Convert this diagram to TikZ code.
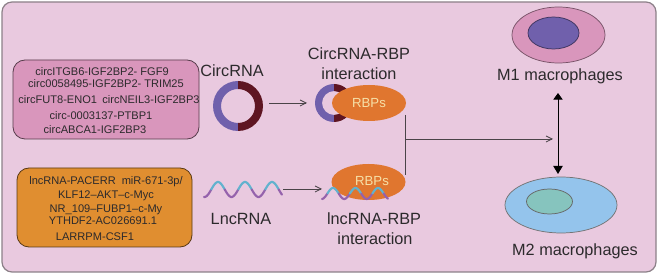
\documentclass[tikz,border=0pt]{standalone}
\usepackage{fontspec}
\setmainfont{Liberation Sans}
\usetikzlibrary{arrows.meta,shapes.geometric}
\definecolor{panelfill}{HTML}{E9C9DF}
\definecolor{panelline}{HTML}{8C8088}
\definecolor{circfill}{HTML}{D996BC}
\definecolor{lncfill}{HTML}{E08E30}
\definecolor{ringpurple}{HTML}{7060AC}
\definecolor{ringdark}{HTML}{5E1522}
\definecolor{rbporange}{HTML}{E0762F}
\definecolor{rbptext}{HTML}{F6E0A8}
\definecolor{waveblue}{HTML}{62B2CE}
\definecolor{wavepurple}{HTML}{9562AC}
\definecolor{inktext}{HTML}{2C2A2C}
\definecolor{linkgray}{HTML}{4A4448}
\tikzset{
  x=0.75pt, y=-0.75pt,
  panel/.style={draw=panelline, line width=0.9pt, fill=panelfill, rounded corners=7.5pt},
  listbox/.style={draw=#1!40!black, line width=0.6pt, rounded corners=9pt},
  small/.style={font=\fontsize{8.3}{9}\selectfont, text=inktext, inner sep=0pt},
  big/.style={font=\fontsize{12.2}{14}\selectfont, text=inktext, inner sep=0pt},
  rbp/.style={ellipse, fill=rbporange, minimum width=55.5pt, minimum height=27pt, inner sep=0pt,
    font=\fontsize{9.9}{11}\selectfont, text=rbptext},
  link/.style={draw=linkgray, line width=0.65pt},
  linkarrow/.style={link, -{Straight Barb[length=4.5pt,width=4.5pt]}},
  cell/.style={ellipse, draw=#1!55!black, line width=0.55pt, inner sep=0pt},
  wave/.style={line width=1.6pt, line cap=round},
}
% sine strand: troughs purple, crests blue, trimmed to the range lo..hi
\newcommand{\waveline}[7]{% phase start x, mean y, amplitude, period, half-period count, lo, hi
  \pgfmathtruncatemacro{\nlast}{#5-1}
  \foreach \k in {0,...,\nlast}{
    \pgfmathsetmacro{\xa}{#1+\k*#4/2}
    \pgfmathsetmacro{\xb}{\xa+#4/2}
    \pgfmathsetmacro{\xlo}{max(\xa,#6)}
    \pgfmathsetmacro{\xhi}{min(\xb,#7)}
    \pgfmathtruncatemacro{\odd}{mod(\k,2)}
    \ifnum\odd=0\def\wcol{wavepurple}\def\wsign{1}\else\def\wcol{waveblue}\def\wsign{-1}\fi
    \draw[wave, draw=\wcol] plot[domain=\xlo:\xhi, samples=14, smooth]
      (\x, {#2+\wsign*(#3)*sin(180*(\x-\xa)/(#4/2))});
  }
}
% ring with a purple left half and a dark right half
\newcommand{\halfring}[4]{% x, y, outer radius, inner radius
  \fill[ringpurple] (#1,#2-#3) arc[start angle=90,end angle=270,radius=#3*0.75pt]
    -- (#1,#2+#4) arc[start angle=270,end angle=90,radius=#4*0.75pt] -- cycle;
  \fill[ringdark] (#1,#2-#3) arc[start angle=90,end angle=-90,radius=#3*0.75pt]
    -- (#1,#2+#4) arc[start angle=-90,end angle=90,radius=#4*0.75pt] -- cycle;
}
\begin{document}
\begin{tikzpicture}
\useasboundingbox (0,0) rectangle (658,274);
\draw[panel] (2,2) rectangle (656,272);

% circRNA list
\draw[listbox=circfill, fill=circfill] (13,60) rectangle (199,139);
\node[small] (c1) at (102,72) {circITGB6-IGF2BP2- FGF9};
\node[small] (c2) at (106,84) {circ0058495-IGF2BP2- TRIM25};
\node[small] (c3) at (109,100) {circFUT8-ENO1\hspace{4pt}circNEIL3-IGF2BP3};
\node[small] (c4) at (101,116) {circ-0003137-PTBP1};
\node[small] (c5) at (95,130) {circABCA1-IGF2BP3};

% lncRNA list
\draw[listbox=lncfill, fill=lncfill] (17,168) rectangle (192,247);
\node[small] (l1) at (106,182) {lncRNA-PACERR\hspace{4.5pt}miR-671-3p/};
\node[small] (l2) at (106,196) {KLF12–AKT–c-Myc};
\node[small] (l3) at (106,210) {NR\_109–FUBP1–c-My};
\node[small] (l4) at (103,221) {YTHDF2-AC026691.1};
\node[small] (l5) at (95,237) {LARRPM-CSF1};

% circRNA and its RBP complex
\node[big] (circlabel) at (232,71) {CircRNA};
\halfring{238}{106}{25}{17}
\coordinate (circout) at (269,103);
\coordinate (circin) at (307,103);
\draw[linkarrow] (circout) -- (circin);
\node[big] (circrbp1) at (359,54) {CircRNA-RBP};
\node[big] (circrbp2) at (359,74) {interaction};
\halfring{334}{103}{19}{12}
\node[rbp] (rbpa) at (369,103) {RBPs};

% lncRNA and its RBP complex
\waveline{197.75}{189.5}{7.5}{27}{7}{204}{282}
\node[big] (lnclabel) at (241,219) {LncRNA};
\coordinate (lncout) at (283,189);
\coordinate (lncin) at (322,189);
\draw[linkarrow] (lncout) -- (lncin);
\node[rbp] (rbpb) at (368.5,182) {};
\node[font=\fontsize{9.9}{11}\selectfont, text=rbptext, inner sep=0pt] (rbpbtext) at (372,181) {RBPs};
\waveline{316.15}{193.5}{5.5}{22.5}{7}{322}{388}
\node[big] (lncrbp1) at (374,219) {lncRNA-RBP};
\node[big] (lncrbp2) at (375,239) {interaction};

% merging connector towards the macrophage switch
\coordinate (jointop) at (405,115);
\coordinate (joinbottom) at (405,175);
\coordinate (joinmid) at (405,139);
\coordinate (joinend) at (553,139);
\draw[link] (jointop) -- (joinbottom);
\draw[linkarrow] (joinmid) -- (joinend);

% macrophages
\node[cell=circfill, fill=circfill, minimum width=69.75pt, minimum height=42pt] (m1) at (558.5,35) {};
\node[cell=ringpurple, fill=ringpurple, minimum width=38.25pt, minimum height=24pt] (m1n) at (553.5,33) {};
\node[big] (m1label) at (560,76) {M1 macrophages};
\node[cell=blue, draw=black!55, fill={rgb,255:red,148;green,196;blue,236}, minimum width=84pt, minimum height=42pt] (m2) at (561,205) {};
\node[cell=blue, draw=black!60, fill={rgb,255:red,134;green,196;blue,190}, minimum width=34.5pt, minimum height=18.75pt] (m2n) at (549.5,201.5) {};
\node[big] (m2label) at (575,251) {M2 macrophages};

\coordinate (swtop) at (558,93);
\coordinate (swbottom) at (558,174);
\draw[black, line width=0.7pt, {Triangle[length=5pt,width=7pt]}-{Triangle[length=6pt,width=7pt]}] (swtop) -- (swbottom);
\end{tikzpicture}
\end{document}
